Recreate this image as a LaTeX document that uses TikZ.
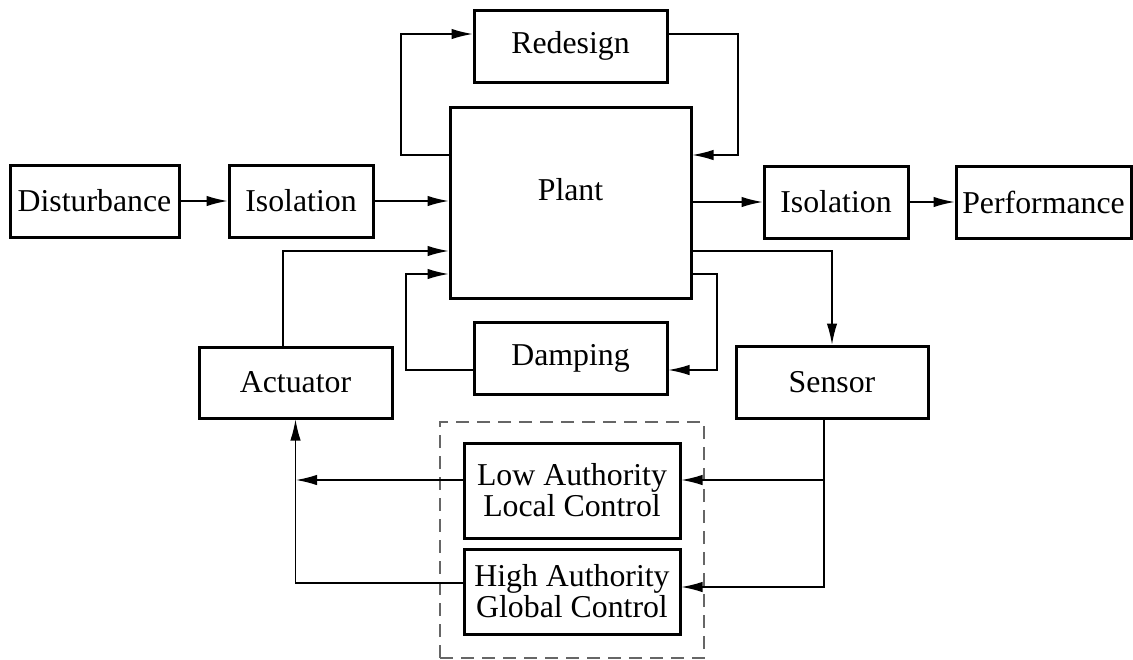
\documentclass[tikz,border=0pt]{standalone}
\usepackage{fontspec}
\setmainfont{Liberation Serif}
\usetikzlibrary{arrows.meta}

\begin{document}
\begin{tikzpicture}
    [
        x=0.5pt, y=-0.5pt,
        every node/.style = {font=\fontsize{15.9}{15.5}\selectfont},
        block/.style = {draw, shape=rectangle, line width=1.5pt, inner sep=0pt, align=center},
        group/.style = {draw=black!60, shape=rectangle, dash pattern=on 6.5pt off 4pt, line width=0.6pt, inner sep=0pt},
        conn/.style = {line width=0.6pt, -{Latex[length=10.5pt,width=5.2pt]}},
    ]

    \useasboundingbox (0,0) rectangle (1133,659);

    \node[block, minimum width=84.5pt, minimum height=36pt] (dist) at (94.5,201) {Disturbance};
    \node[block, minimum width=72pt, minimum height=36pt] (iso1) at (301,201) {Isolation};
    \node[block, minimum width=96.5pt, minimum height=36pt] (redesign) at (570.5,46) {Redesign};
    \node[block, minimum width=120.5pt, minimum height=95.5pt] (plant) at (570.5,202.5) {};
    \node (plantlabel) at (570.5,190) {Plant};
    \node[block, minimum width=72pt, minimum height=36pt] (iso2) at (836,202) {Isolation};
    \node[block, minimum width=87.5pt, minimum height=36pt] (perf) at (1043.5,202) {Performance};

    \node[block, minimum width=96.5pt, minimum height=35.5pt] (actuator) at (295.5,382.5) {Actuator};
    \node[block, minimum width=96.5pt, minimum height=36pt] (damping) at (570.5,358) {Damping};
    \node[block, minimum width=96pt, minimum height=36pt] (sensor) at (832,382) {Sensor};

    \node[group, minimum width=132pt, minimum height=118pt] (ctrl) at (572,540) {};
    \node[block, minimum width=108pt, minimum height=47.5pt] (low) at (572,490.5) {Low Authority\\Local Control};
    \node[block, minimum width=108pt, minimum height=42.5pt] (high) at (572,591.5) {High Authority\\Global Control};

    % bends
    \coordinate (rdl) at (401,155);
    \coordinate (rdr) at (738,155);
    \coordinate (act) at (283,251);
    \coordinate (dpl) at (406,274);
    \coordinate (dpr) at (717,274);
    \coordinate (sns) at (833,251);
    \coordinate (snl) at (824,480);
    \coordinate (snh) at (824,587);
    \coordinate (ctl) at (296,480);
    \coordinate (cth) at (296,583);

    \draw [conn] (dist.east) -- (iso1.west);
    \draw [conn] (iso1.east) -- (plant.west |- iso1.east);
    \draw [conn] (plant.east |- iso2.west) -- (iso2.west);
    \draw [conn] (iso2.east) -- (perf.west);

    \draw [conn] (plant.west |- rdl) -- (rdl) |- ([yshift=6pt]redesign.west);
    \draw [conn] ([yshift=6pt]redesign.east) -| (rdr) -- (plant.east |- rdr);

    \draw [conn] (actuator.north -| act) |- (plant.west |- act);
    \draw [conn] ([yshift=-6pt]damping.west) -| (dpl) -- (plant.west |- dpl);
    \draw [conn] (plant.east |- dpr) -- (dpr) |- ([yshift=-6pt]damping.east);
    \draw [conn] (plant.east |- sns) -| (sensor.north);

    \draw [conn] (sensor.south -| snh) -- (snh) -- (high.east |- snh);
    \draw [conn] (snl) -- (low.east |- snl);
    \draw [conn] (low.west |- ctl) -- (ctl);
    \draw [conn] (high.west |- cth) -| (actuator.south);

\end{tikzpicture}
\end{document}
